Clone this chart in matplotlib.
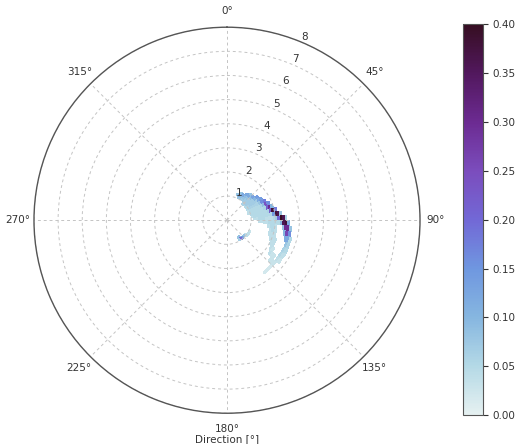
import numpy as np
import matplotlib
matplotlib.use("Agg")
import matplotlib.pyplot as plt
from matplotlib.colors import LinearSegmentedColormap

# direction bins (deg, clockwise from north) and radial bins
dir_edges = np.arange(20, 152.5, 5)          # 26 bins
r_edges = np.arange(0.8, 2.85, 0.1)          # 20 bins, centres 0.85 .. 2.75

# density per cell, in hundredths (rows = direction bins, cols = radial bins)
density_pct = [
    # 0.85 .95 1.05 1.15 1.25 1.35 1.45 1.55 1.65 1.75 1.85 1.95 2.05 2.15 2.25 2.35 2.45 2.55 2.65 2.75
    [0, 0, 0, 8, 0, 0, 0, 0, 0, 0, 0, 0, 0, 0, 0, 0, 0, 0, 0, 0],       # 22.5
    [0, 0, 8, 12, 8, 0, 0, 0, 0, 0, 0, 0, 0, 0, 0, 0, 0, 0, 0, 0],      # 27.5
    [0, 0, 8, 9, 12, 0, 0, 0, 0, 0, 0, 0, 0, 0, 0, 0, 0, 0, 0, 0],      # 32.5
    [0, 0, 7, 8, 9, 12, 0, 0, 0, 0, 0, 0, 0, 0, 0, 0, 0, 0, 0, 0],      # 37.5
    [0, 6, 7, 7, 8, 12, 8, 0, 0, 0, 0, 0, 0, 0, 0, 0, 0, 0, 0, 0],      # 42.5
    [0, 6, 7, 7, 7, 9, 13, 0, 0, 0, 0, 0, 0, 0, 0, 0, 0, 0, 0, 0],      # 47.5
    [0, 5, 7, 7, 7, 7, 10, 14, 0, 0, 0, 0, 0, 0, 0, 0, 0, 0, 0, 0],     # 52.5
    [0, 5, 6, 7, 7, 7, 7, 12, 14, 0, 0, 0, 0, 0, 0, 0, 0, 0, 0, 0],     # 57.5
    [0, 5, 6, 6, 6, 6, 6, 8, 16, 18, 0, 0, 0, 0, 0, 0, 0, 0, 0, 0],     # 62.5
    [0, 4, 5, 5, 5, 5, 5, 6, 9, 24, 16, 0, 0, 0, 0, 0, 0, 0, 0, 0],     # 67.5
    [0, 4, 5, 5, 5, 5, 5, 5, 6, 22, 30, 10, 0, 0, 0, 0, 0, 0, 0, 0],    # 72.5
    [0, 0, 5, 5, 5, 5, 5, 5, 5, 6, 22, 38, 18, 0, 0, 0, 0, 0, 0, 0],    # 77.5
    [0, 0, 4, 5, 5, 5, 5, 5, 5, 5, 5, 14, 38, 36, 8, 0, 0, 0, 0, 0],    # 82.5
    [0, 0, 0, 4, 4, 5, 5, 5, 4, 4, 4, 5, 7, 20, 40, 36, 6, 0, 0, 0],    # 87.5
    [0, 0, 0, 0, 0, 4, 4, 4, 4, 5, 5, 5, 5, 5, 10, 36, 38, 12, 0, 0],   # 92.5
    [0, 0, 0, 0, 0, 0, 0, 0, 0, 4, 5, 5, 4, 0, 0, 8, 30, 30, 8, 0],     # 97.5
    [0, 0, 0, 0, 0, 0, 0, 0, 0, 0, 4, 5, 4, 0, 0, 0, 10, 26, 16, 0],    # 102.5
    [0, 0, 0, 0, 0, 0, 0, 0, 0, 0, 4, 4, 4, 0, 0, 0, 0, 12, 12, 5],     # 107.5
    [0, 0, 0, 0, 0, 0, 0, 0, 0, 0, 0, 4, 4, 4, 0, 0, 0, 0, 8, 6],       # 112.5
    [0, 0, 3, 0, 0, 0, 0, 0, 0, 0, 0, 0, 4, 4, 0, 0, 0, 0, 6, 5],       # 117.5
    [0, 0, 4, 0, 0, 0, 0, 0, 0, 0, 0, 0, 0, 4, 3, 0, 0, 0, 5, 4],       # 122.5
    [0, 4, 4, 0, 0, 0, 0, 0, 0, 0, 0, 0, 0, 0, 4, 3, 3, 0, 4, 3],       # 127.5
    [0, 8, 0, 0, 0, 0, 0, 0, 0, 0, 0, 0, 0, 0, 0, 0, 3, 3, 3, 0],       # 132.5
    [0, 14, 0, 0, 0, 0, 0, 0, 0, 0, 0, 0, 0, 0, 0, 0, 0, 0, 2, 0],      # 137.5
    [9, 20, 0, 0, 0, 0, 0, 0, 0, 0, 0, 0, 0, 0, 0, 0, 0, 0, 2, 0],      # 142.5
    [8, 7, 0, 0, 0, 0, 0, 0, 0, 0, 0, 0, 0, 0, 0, 0, 0, 0, 0, 0],       # 147.5
]

r_ticks = [1, 2, 3, 4, 5, 6, 7, 8]
cbar_ticks = [0.0, 0.05, 0.10, 0.15, 0.20, 0.25, 0.30, 0.35, 0.40]

# colormap (looks like cmocean "dense")
dense = LinearSegmentedColormap.from_list("dense_like", [
    "#e6f1f1", "#b4d9e6", "#86b6e0", "#6f97e0", "#7268d6",
    "#7b4dbd", "#6c2b92", "#52185e", "#360e22"])

Z = np.ma.masked_equal(np.array(density_pct, dtype=float), 0) / 100.0
T, R = np.meshgrid(np.deg2rad(dir_edges), r_edges, indexing="ij")

fig = plt.figure(figsize=(5.31, 4.44), dpi=100)
ax = fig.add_axes([0.064, 0.068, 0.727, 0.872], projection="polar")
ax.set_theta_zero_location("N")
ax.set_theta_direction(-1)

mesh = ax.pcolormesh(T, R, Z, cmap=dense, vmin=0, vmax=0.4, shading="flat")

ax.set_ylim(0, 8)
ax.set_yticks(r_ticks)
ax.set_rlabel_position(22.5)
ax.set_thetagrids(np.arange(0, 360, 45), [f"{a}°" for a in range(0, 360, 45)])
ax.tick_params(labelsize=7.5, colors="#333333")
ax.tick_params(axis="x", pad=1)
ax.grid(True, linestyle=(0, (3, 3)), color="#c4c4c4", linewidth=0.7)
ax.spines["polar"].set_color("#555555")
ax.spines["polar"].set_linewidth(1.0)
ax.set_xlabel("Direction [°]", fontsize=7.5, color="#333333", labelpad=0)

cax = fig.add_axes([0.872, 0.065, 0.037, 0.88])
cb = fig.colorbar(mesh, cax=cax, ticks=cbar_ticks)
cb.ax.tick_params(labelsize=7.5, colors="#333333")
cb.ax.set_yticklabels([f"{t:.2f}" for t in cbar_ticks])
cb.outline.set_edgecolor("#555555")

fig.savefig("out.png", dpi=100)
